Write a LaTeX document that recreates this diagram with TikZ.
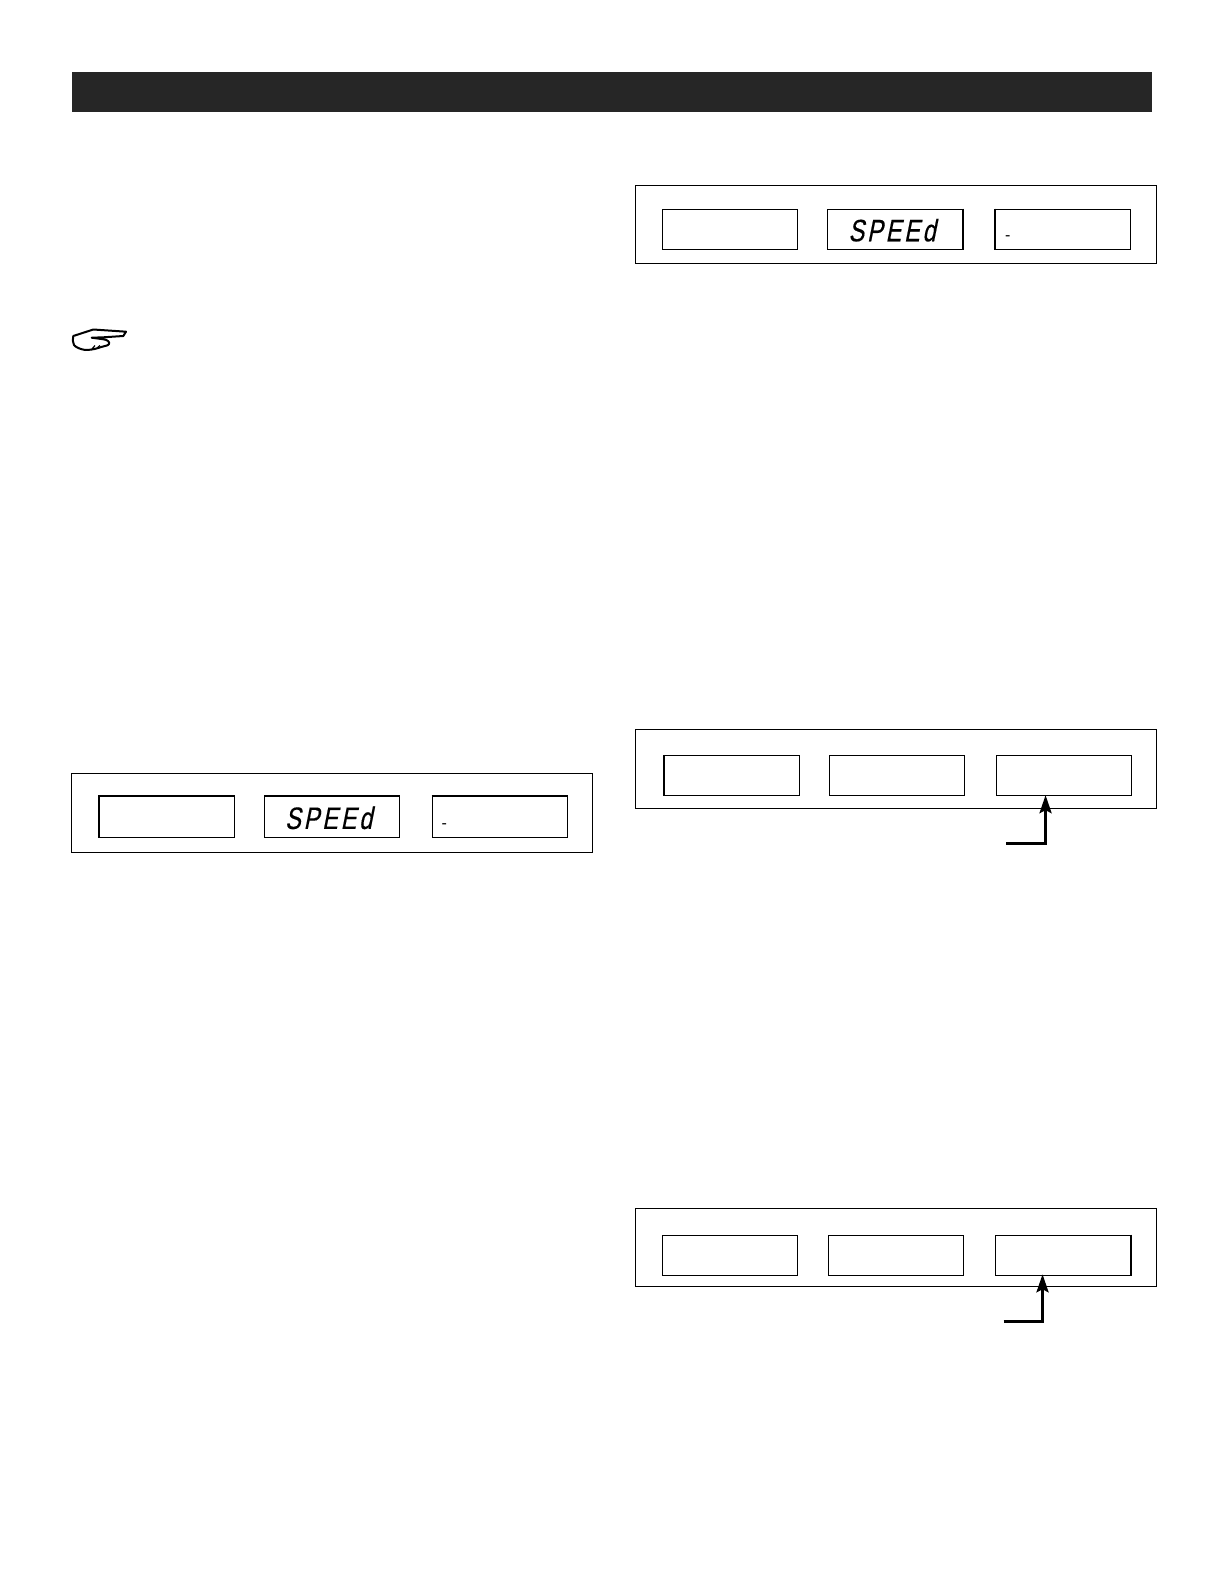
\documentclass[tikz,border=0pt]{standalone}
\usepackage{fontspec}
\setmainfont{Liberation Sans}
\newfontfamily\segfont[FakeStretch=0.76,FakeSlant=0.2,LetterSpace=9,FakeBold=0.3]{Liberation Sans}
\usetikzlibrary{arrows.meta}
\definecolor{headbar}{HTML}{262626}
\tikzset{
  outerbox/.style={draw=black,line width=1pt,anchor=north west,inner sep=0pt,minimum width=521pt,minimum height=78.7pt},
  panelbox/.style={draw=black,line width=1pt,anchor=north west,inner sep=0pt,minimum width=135pt,minimum height=40.2pt},
  speedtext/.style={font=\segfont\fontsize{31}{31}\selectfont,inner sep=0pt,text=black},
  dashtext/.style={font=\fontsize{16}{16}\selectfont,inner sep=0pt,text=black},
  pointer/.style={line width=3pt,-{Stealth[length=18pt,width=12pt,inset=3pt]}},
  heavyedge/.style={line width=2pt,line cap=square}
}
\begin{document}
\begin{tikzpicture}[x=1.0097pt,y=-1.0097pt]
\useasboundingbox (0pt,0pt) rectangle (1224pt,-1584pt);
\fill[white] (0pt,0pt) rectangle (1224pt,-1584pt);
\fill[headbar] (71,71) rectangle (1141,111);
% hand (true pixel coordinates)
\begin{scope}[x=1pt,y=-1pt]
\draw[line width=2pt,line join=round,line cap=round] (73.3,336) -- (93.3,329.5) -- (126,331.7) -- (123.3,336) -- (103.3,337.3) -- (91.7,337.7) .. controls (100,339) and (106,339) .. (108,341) .. controls (110.5,343) and (109,345.5) .. (105,346) .. controls (100,347) and (95,350) .. (85,350) .. controls (80,349) and (76,347.5) .. (74,345) .. controls (72.5,342) and (72.5,339) .. (73.3,336) -- cycle;
\draw[line width=1.2pt] (92,349) -- (95,345.5) (97,348) -- (100,345.5);
\end{scope}
% top right panel
\node[outerbox] (o1) at (629,183) {};
\node[panelbox] (a1) at (656,206.5) {};
\node[panelbox] (a2) at (819.5,206.5) {};
\node[panelbox] (a3) at (985,206.5) {};
\node[speedtext] (s1) at (883.5,228) {SPEEd};
\node[dashtext] (d1) at (998,235.5) {-};
\draw[heavyedge] (a2.north east) -- (a2.south east);
\draw[heavyedge] (a3.north west) -- (a3.south west);
% left panel
\node[outerbox] (o2) at (70.5,765.5) {};
\node[panelbox] (b1) at (98,788.8) {};
\node[panelbox] (b2) at (261.5,788.8) {};
\node[panelbox] (b3) at (427.5,788.8) {};
\node[speedtext] (s2) at (325.5,810) {SPEEd};
\node[dashtext] (d2) at (440,818.5) {-};
\draw[heavyedge] (b1.south west) -- (b1.north west) -- (b1.north east);
\draw[heavyedge] (b2.north west) -- (b2.north east);
\draw[heavyedge] (b3.north west) -- (b3.north east);
% right mid panel
\node[outerbox] (o3) at (629,722) {};
\node[panelbox] (c1) at (657.5,747.5) {};
\node[panelbox] (c2) at (821,747.5) {};
\node[panelbox] (c3) at (986.5,747.5) {};
\draw[heavyedge] (c1.north west) -- (c1.south west);
\coordinate (c3start) at (996.5,835);
\coordinate (c3tip) at (1035.5,787.5);
\draw[pointer] (c3start) -| (c3tip);
% right bottom panel
\node[outerbox] (o4) at (629,1196) {};
\node[panelbox] (e1) at (656,1222.8) {};
\node[panelbox] (e2) at (820,1222.8) {};
\node[panelbox] (e3) at (985.5,1222.8) {};
\draw[heavyedge] (e3.north east) -- (e3.south east);
\coordinate (e3start) at (994,1309);
\coordinate (e3tip) at (1032.5,1262);
\draw[pointer] (e3start) -| (e3tip);
\end{tikzpicture}
\end{document}
